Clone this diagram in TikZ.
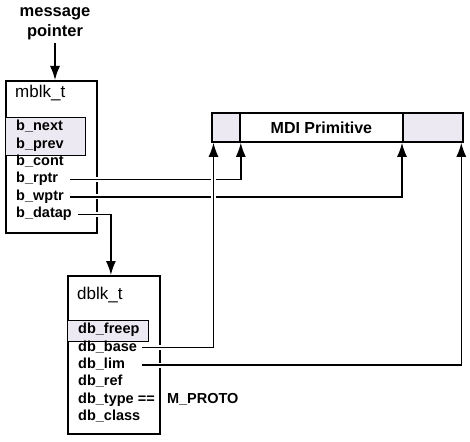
\documentclass[tikz,border=0pt]{standalone}
\usepackage{fontspec}
\setmainfont{Liberation Sans}
\usetikzlibrary{positioning,calc,arrows.meta}
\definecolor{hatchfill}{RGB}{236,233,242}

\begin{document}
\begin{tikzpicture}[
  x=1pt,y=-1pt,
  blk/.style={draw,line width=1.8pt,inner sep=0pt,anchor=north west},
  hatch/.style={draw,line width=0.9pt,fill=hatchfill},
  field/.style={font=\fontsize{14.5}{14.5}\selectfont\bfseries,inner xsep=0pt,inner ysep=1pt,
    text height=11pt,text depth=4pt,anchor=north west},
  title/.style={font=\fontsize{17}{17}\selectfont,inner sep=0pt,anchor=west},
  link/.style={line width=1.4pt,-{Latex[length=14pt,width=10pt]},
    preaction={draw=white,line width=5pt,-,shorten >=4pt}}
  ]
  \useasboundingbox (0,0) rectangle (470,441);

  % message block
  \node[blk,minimum width=91pt,minimum height=152pt] (mblk) at (5,80) {};
  \node[title] (mblkT) at (15,93) {mblk\_t};
  \filldraw[hatch] (5,117) rectangle (85,155);
  \node[field] (bnext) at (16,118.5) {b\_next};
  \node[field,below=0pt of bnext.south west,anchor=north west] (bprev) {b\_prev};
  \node[field,below=0pt of bprev.south west,anchor=north west] (bcont) {b\_cont};
  \node[field,below=0pt of bcont.south west,anchor=north west] (brptr) {b\_rptr};
  \node[field,below=0pt of brptr.south west,anchor=north west] (bwptr) {b\_wptr};
  \node[field,below=0pt of bwptr.south west,anchor=north west] (bdatap) {b\_datap};

  \node[font=\fontsize{16.5}{20}\selectfont\bfseries,align=center,anchor=south] (msg) at (55,43)
    {message\\pointer};

  % the primitive
  \node[blk,minimum width=251pt,minimum height=29pt] (mdi) at (211,112) {};
  \node[blk,fill=hatchfill,minimum width=28pt,minimum height=29pt] (mdiL) at (mdi.north west) {};
  \node[blk,fill=hatchfill,minimum width=60pt,minimum height=29pt,anchor=north east] (mdiR)
    at (mdi.north east) {};
  \node[font=\fontsize{16}{16}\selectfont\bfseries] (mdiT) at ($(mdiL.east)!0.5!(mdiR.west)$)
    {MDI Primitive};
  \coordinate (pbase) at ($(mdiL.south west)+(2.5,0)$);
  \coordinate (plim) at ($(mdiR.south east)+(-2.5,0)$);

  % data block
  \node[blk,minimum width=92pt,minimum height=158pt] (dblk) at (67,275) {};
  \node[title] (dblkT) at (77,295) {dblk\_t};
  \filldraw[hatch] (67,320) rectangle (148,341);
  \node[field] (dbfreep) at (78,321.5) {db\_freep};
  \node[field,below=0pt of dbfreep.south west,anchor=north west] (dbbase) {db\_base};
  \node[field,below=0pt of dbbase.south west,anchor=north west] (dblim) {db\_lim};
  \node[field,below=0pt of dblim.south west,anchor=north west] (dbref) {db\_ref};
  \node[field,below=0pt of dbref.south west,anchor=north west] (dbtype) {db\_type ==};
  \node[field,below=0pt of dbtype.south west,anchor=north west] (dbclass) {db\_class};
  \node[field,anchor=west] (mproto) at ([xshift=6pt]dblk.east |- dbtype.east) {M\_PROTO};

  \draw[link] (msg.south) -- (msg.south |- mblk.north);
  \draw[link] ([xshift=6pt]bwptr.east |- brptr.east) -| (mdiL.south east);
  \draw[link] ([xshift=6pt]bwptr.east) -| (mdiR.south west);
  \draw[link] ([xshift=6pt]bdatap.east) -| ([xshift=-3pt]dblk.north);
  \draw[link] ([xshift=5pt]dbbase.east) -| (pbase);
  \draw[link] ([xshift=5pt]dbbase.east |- dblim.east) -| (plim);
\end{tikzpicture}
\end{document}
